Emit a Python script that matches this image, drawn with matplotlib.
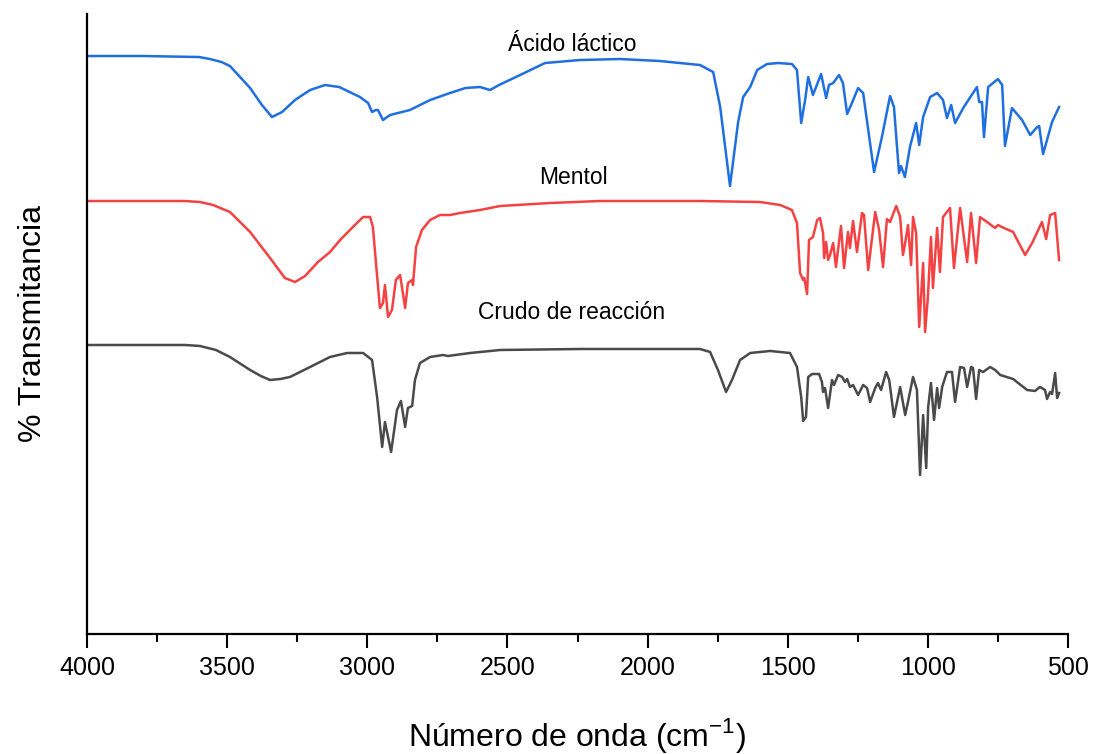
import matplotlib
matplotlib.use("Agg")
import matplotlib.pyplot as plt
from matplotlib.ticker import MultipleLocator

plt.rcParams["font.family"] = ["Liberation Sans", "DejaVu Sans"]

# FTIR spectra: wavenumber (cm-1) and transmittance (arbitrary, offset)
acido_wn = [4000, 3800, 3600, 3561, 3520, 3490, 3418, 3376, 3340, 3304, 3258, 3204, 3151,
            3100, 3026, 2997,
            2983, 2970, 2962, 2944, 2919, 2848, 2776, 2705, 2650, 2598, 2562, 2530, 2455,
            2366, 2241, 2098, 1956, 1813, 1766, 1741, 1706, 1677, 1659, 1634, 1609, 1574,
            1534, 1485, 1467, 1452, 1438, 1427, 1410, 1381, 1363, 1353, 1338, 1317, 1303,
            1288, 1271, 1249, 1231, 1192, 1164, 1135, 1121, 1103, 1096, 1082, 1064, 1042,
            1031, 1017, 992, 967, 946, 932, 917, 903, 874, 825, 817, 807, 800, 785, 750,
            735, 725, 700, 664, 635, 610, 603, 589, 557, 532]
acido_t = [578, 578, 577, 575, 572, 568, 546, 529, 517, 522, 534, 544, 549,
           547, 537, 531,
           522, 524, 524, 514, 519, 524, 534, 541, 546, 547, 544, 549, 559,
           571, 574, 575, 573, 569, 562, 527, 448, 512, 537, 547, 564, 570,
           571, 570, 564, 511, 534, 557, 539, 560, 536, 549, 551, 559, 551,
           520, 531, 546, 541, 462, 497, 538, 527, 461, 468, 457, 487, 511,
           489, 517, 537, 541, 534, 516, 529, 511, 526, 547, 532, 532, 497, 547, 555,
           549, 488, 526, 514, 499, 507, 508, 480, 512, 527]

mentol_wn = [4000, 3650, 3597, 3550, 3490, 3418, 3347, 3294, 3258, 3222, 3176, 3133, 3097,
             3062, 3015, 2990,
             2980, 2969, 2955, 2944, 2937, 2926, 2912, 2898, 2883, 2865, 2855, 2840, 2837,
             2826, 2805, 2776, 2741, 2705, 2669, 2598, 2526, 2348, 2170, 1813, 1599, 1527,
             1485, 1467, 1456, 1445, 1441, 1431, 1424, 1410, 1395, 1385, 1374, 1370, 1363,
             1356, 1349, 1338, 1328, 1310, 1299, 1285, 1278, 1267, 1253, 1235, 1228, 1213,
             1188, 1174, 1160, 1146, 1135, 1113, 1099, 1089, 1081, 1071, 1060, 1053, 1042,
             1031, 1017, 1010, 1000, 989, 982, 967, 957, 946, 935, 921, 907, 885, 860, 846,
             828, 814, 789, 760, 750, 736, 696, 653, 628, 593, 578, 564, 546, 532]
mentol_t = [433, 433, 432, 429, 422, 402, 376, 356, 352, 358, 372, 382, 394,
            404, 417, 417,
            407, 371, 326, 331, 349, 317, 324, 354, 359, 326, 351, 354, 349,
            387, 404, 414, 419, 419, 421, 424, 428, 431, 433, 433, 432, 429,
            424, 411, 361, 354, 356, 340, 394, 397, 414, 416, 401, 376, 392,
            374, 379, 391, 367, 408, 366, 402, 386, 413, 382, 421, 419, 364,
            422, 404, 367, 415, 412, 428, 417, 379, 391, 409, 369, 417, 401,
            307, 371, 302, 337, 397, 346, 406, 362, 417, 421, 426, 366, 426, 372, 421,
            371, 417, 412, 406, 409, 407, 402, 379, 391, 412, 395, 419, 421, 374]

crudo_wn = [4000, 3650, 3597, 3540, 3490, 3418, 3380, 3347, 3310, 3276, 3204, 3133, 3072,
            3015, 2983, 2965, 2947,
            2937, 2915, 2894, 2880, 2865, 2855, 2840, 2830, 2812, 2776, 2730, 2712, 2633,
            2526, 2241, 1813, 1777, 1749, 1720, 1699, 1670, 1634, 1563, 1492, 1467, 1452,
            1445, 1435, 1427, 1413, 1388, 1378, 1374, 1367, 1356, 1342, 1335, 1320, 1306,
            1296, 1288, 1278, 1267, 1249, 1231, 1217, 1206, 1188, 1178, 1167, 1149, 1138,
            1121, 1099, 1081, 1071, 1053, 1039, 1028, 1017, 1006, 999, 989, 978, 967, 960,
            949, 932, 914, 903, 885, 871, 860, 846, 839, 828, 817, 803, 778, 760, 742, 696,
            646, 618, 600, 582, 575, 564, 557, 546, 539, 532]
crudo_t = [289, 289, 288, 284, 277, 264, 258, 254, 255, 257, 267, 277, 281,
           281, 274, 237, 187,
           212, 182, 224, 233, 207, 226, 228, 254, 271, 277, 279, 278, 281,
           284, 285, 285, 282, 264, 242, 254, 274, 281, 283, 281, 267, 237,
           213, 217, 257, 260, 260, 252, 242, 246, 226, 254, 249, 259, 257,
           252, 255, 247, 249, 239, 249, 246, 232, 246, 251, 244, 262, 254,
           217, 247, 219, 232, 257, 244, 159, 219, 166, 227, 251, 214, 246, 226,
           247, 262, 262, 232, 267, 266, 247, 267, 266, 235, 264, 262, 267, 264, 259, 255,
           244, 243, 247, 244, 235, 242, 240, 261, 236, 241]

labels = ["Ácido láctico", "Mentol", "Crudo de reacción"]
colors = ["#1f6fe0", "#f44242", "#4a4a4a"]
label_pos = [(2270, 590), (2265, 457), (2270, 321)]

fig = plt.figure(figsize=(10.97, 7.54), dpi=100)
ax = fig.add_axes([0.0793, 0.1592, 0.8943, 0.8222])

series = [(acido_wn, acido_t), (mentol_wn, mentol_t), (crudo_wn, crudo_t)]
for (wn, t), c, lab, (lx, ly) in zip(series, colors, labels, label_pos):
    ax.plot(wn, t, color=c, lw=1.8, solid_joinstyle="round")
    ax.text(lx, ly, lab, ha="center", va="center", fontsize=16.5)

ax.set_xlim(4000, 500)
ax.set_ylim(0, 620)
ax.xaxis.set_major_locator(MultipleLocator(500))
ax.xaxis.set_minor_locator(MultipleLocator(250))
ax.set_yticks([])
ax.tick_params(axis="x", which="major", length=10, width=1.5, labelsize=18, pad=6)
ax.tick_params(axis="x", which="minor", length=6, width=1.5)
for s in ["top", "right"]:
    ax.spines[s].set_visible(False)
for s in ["left", "bottom"]:
    ax.spines[s].set_linewidth(1.6)

ax.set_xlabel("Número de onda (cm$^{\\mathregular{-1}}$)", fontsize=23, labelpad=26)
ax.set_ylabel("% Transmitancia", fontsize=23, labelpad=28)

fig.savefig("out.png", dpi=100)
